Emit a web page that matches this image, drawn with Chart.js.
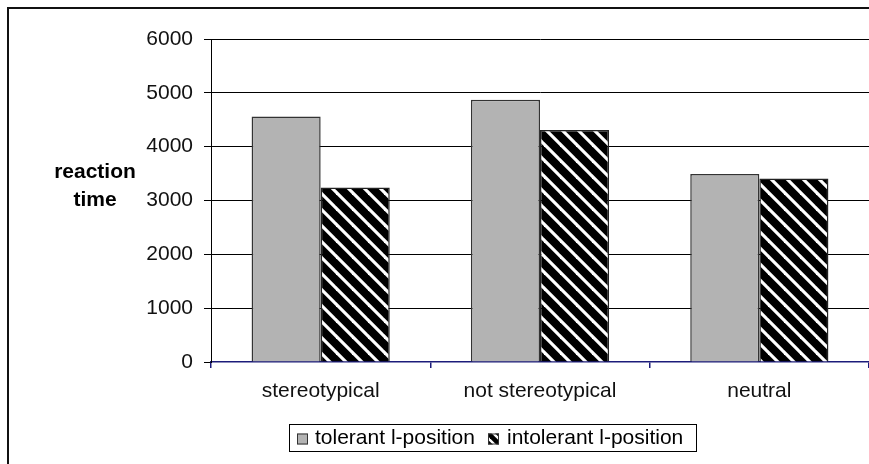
<!DOCTYPE html>
<html>
<head>
<meta charset="utf-8">
<title>Reaction time</title>
<script src="https://cdn.jsdelivr.net/npm/chart.js@4.4.1/dist/chart.umd.min.js"></script>
<style>
  html, body { margin: 0; padding: 0; background: #fff; overflow: hidden; }
  canvas { display: block; }
</style>
</head>
<body>
<canvas id="chart" width="869" height="464"></canvas>
<script>
// Data
const categories = ['stereotypical', 'not stereotypical', 'neutral'];
const seriesNames = ['tolerant l-position', 'intolerant l-position'];
const tolerant = [4560, 4870, 3490];
const intolerant = [3240, 4310, 3410];
const yTicks = [0, 1000, 2000, 3000, 4000, 5000, 6000];
const axisTitle = ['reaction', 'time'];

const FONT = '"Liberation Sans", Arial, sans-serif';
const FONT_SIZE = 21;
const GREY = '#b3b3b3';

// Black tile with white diagonal stripes running top-left to bottom-right
function makeStripes(size, lw) {
  const c = document.createElement('canvas');
  c.width = size; c.height = size;
  const g = c.getContext('2d');
  g.fillStyle = '#000';
  g.fillRect(0, 0, size, size);
  g.strokeStyle = '#fff';
  g.lineWidth = lw;
  for (let k = -1; k <= 1; k++) {
    g.beginPath();
    g.moveTo(-2, k * size - 2);
    g.lineTo(size + 2, size + k * size + 2);
    g.stroke();
  }
  return g.createPattern(c, 'repeat');
}
const ctx0 = document.getElementById('chart').getContext('2d');
const stripes = makeStripes(16, 3.2);
const smallStripes = makeStripes(10, 2.4);

// Frame, axis title and boxed legend
const decorations = {
  id: 'decorations',
  beforeDraw(chart) {
    const c = chart.ctx;
    c.save();
    c.fillStyle = '#fff';
    c.fillRect(0, 0, chart.width, chart.height);
    c.restore();
  },
  afterDraw(chart) {
    const c = chart.ctx;
    c.save();
    // outer frame
    c.strokeStyle = '#111';
    c.lineWidth = 2;
    c.strokeRect(8, 8, 1000, 1000);

    // axis title
    c.fillStyle = '#000';
    c.font = 'bold ' + FONT_SIZE + 'px ' + FONT;
    c.textAlign = 'center';
    c.textBaseline = 'middle';
    c.fillText(axisTitle[0], 95, 172);
    c.fillText(axisTitle[1], 95, 200);

    // legend
    const bx = 289, by = 424, bw = 407, bh = 27;
    c.strokeStyle = '#000';
    c.lineWidth = 1;
    c.strokeRect(bx + 0.5, by + 0.5, bw, bh);
    const cy = by + bh / 2 + 1;
    c.font = FONT_SIZE + 'px ' + FONT;
    c.textAlign = 'left';
    c.textBaseline = 'middle';
    // item 1
    c.fillStyle = GREY;
    c.fillRect(297, cy - 5, 11, 11);
    c.strokeStyle = '#333';
    c.strokeRect(297.5, cy - 4.5, 10, 10);
    c.fillStyle = '#000';
    c.fillText(seriesNames[0], 315, cy);
    // item 2
    c.fillStyle = smallStripes;
    c.fillRect(488, cy - 5, 11, 11);
    c.strokeStyle = '#333';
    c.strokeRect(488.5, cy - 4.5, 10, 10);
    c.fillStyle = '#000';
    c.fillText(seriesNames[1], 507, cy);
    c.restore();
  }
};

new Chart(ctx0, {
  type: 'bar',
  data: {
    labels: categories,
    datasets: [
      {
        label: seriesNames[0],
        data: tolerant,
        backgroundColor: GREY,
        borderColor: '#333',
        borderWidth: 1.5,
        borderSkipped: 'bottom'
      },
      {
        label: seriesNames[1],
        data: intolerant,
        backgroundColor: stripes,
        borderColor: '#222',
        borderWidth: 1.5,
        borderSkipped: 'bottom'
      }
    ]
  },
  options: {
    responsive: false,
    animation: false,
    devicePixelRatio: 1,
    layout: { padding: { top: 39, left: 0, right: 0, bottom: 0 } },
    datasets: { bar: { categoryPercentage: 0.63, barPercentage: 1.0 } },
    plugins: {
      legend: { display: false },
      tooltip: { enabled: false },
      title: { display: false }
    },
    scales: {
      x: {
        afterFit(scale) { scale.height = 102; },
        grid: {
          offset: true,
          drawOnChartArea: false,
          drawTicks: true,
          tickLength: 6,
          color: '#1c1c7a',
          lineWidth: 1.5
        },
        border: { display: true, color: '#1c1c7a', width: 1.5 },
        ticks: {
          color: '#111',
          font: { family: FONT, size: FONT_SIZE },
          padding: 11,
          maxRotation: 0
        }
      },
      y: {
        min: 0,
        max: 6000,
        afterFit(scale) { scale.width = 211; },
        afterBuildTicks(scale) { scale.ticks = yTicks.map(v => ({ value: v })); },
        grid: {
          color: c => (c.tick && c.tick.value === 0) ? 'rgba(0,0,0,0)' : '#000',
          tickColor: '#000',
          lineWidth: 1,
          tickLength: 7
        },
        border: { display: true, color: '#000', width: 1 },
        ticks: {
          color: '#111',
          font: { family: FONT, size: FONT_SIZE },
          padding: 11,
          callback: v => String(v)
        }
      }
    }
  },
  plugins: [decorations]
});
</script>
</body>
</html>
